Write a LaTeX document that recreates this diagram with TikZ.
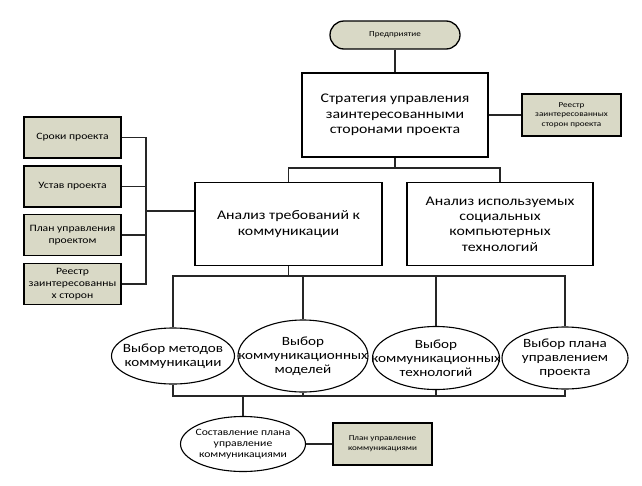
\documentclass[tikz,border=0pt]{standalone}
\usepackage{fontspec}
\setmainfont[FakeStretch=1.2]{Carlito}
\usetikzlibrary{shapes.geometric}
\definecolor{olivefill}{RGB}{217,217,198}
\begin{document}
\begin{tikzpicture}[x=1pt,y=-1pt,
  conn/.style={draw=black!85, line width=1.1pt},
  bigbox/.style={draw, line width=1.3pt, fill=white, align=center, inner sep=0pt,
    minimum width=186pt, minimum height=84pt, font=\fontsize{13.2}{15.4}\selectfont},
  sidebox/.style={draw, line width=1.3pt, fill=olivefill, align=center, inner sep=0pt,
    minimum width=97pt, minimum height=41pt, font=\fontsize{9.7}{11.7}\selectfont},
  smallbox/.style={draw, line width=1.3pt, fill=olivefill, align=center, inner sep=0pt,
    minimum width=99pt, minimum height=42pt, font=\fontsize{7.6}{9.8}\selectfont},
  ell/.style={ellipse, draw, line width=1.1pt, fill=white, inner sep=0pt},
  elltext/.style={align=center, font=\fontsize{12.6}{14.2}\selectfont, inner sep=0pt},
  elltextsmall/.style={align=center, font=\fontsize{9.7}{11}\selectfont, inner sep=0pt}
]
\useasboundingbox (0,0) rectangle (642,485);

% nodes
\node[draw, line width=1.3pt, fill=olivefill, rounded corners=14pt, minimum width=130pt,
  minimum height=28pt, inner sep=0pt, font=\fontsize{7.6}{9}\selectfont] (pred) at (395,35) {Предприятие};
\node[bigbox] (strat) at (395,115) {Стратегия управления\\заинтересованными\\сторонами проекта};
\node[smallbox] (reestr) at (571.5,115) {Реестр\\заинтересованных\\сторон проекта};

\node[bigbox, minimum width=187pt, minimum height=83pt] (an1) at (288.5,224) {Анализ требований к\\коммуникации};
\node[bigbox, minimum height=83pt] (an2) at (500,224) {Анализ используемых\\социальных\\компьютерных\\технологий};

\node[sidebox] (l1) at (72.5,137.5) {Сроки проекта};
\node[sidebox] (l2) at (72.5,186.5) {Устав проекта};
\node[sidebox] (l3) at (72.5,235) {План управления\\проектом};
\node[sidebox] (l4) at (72.5,284) {Реестр\\заинтересованны\\х сторон};

\node[ell, minimum width=123pt, minimum height=56pt,
  label={[elltext]center:Выбор методов\\коммуникации}] (e1) at (173,356) {};
\node[ell, minimum width=130pt, minimum height=72pt,
  label={[elltext]center:Выбор\\коммуникационных\\моделей}] (e2) at (303,356) {};
\node[ell, minimum width=127pt, minimum height=63pt,
  label={[elltext]center:Выбор\\коммуникационных\\технологий}] (e3) at (436,358) {};
\node[ell, minimum width=126pt, minimum height=62pt,
  label={[elltext]center:Выбор плана\\управлением\\проекта}] (e4) at (565,358) {};

\node[ell, minimum width=125pt, minimum height=55pt,
  label={[elltextsmall]center:Составление плана\\управление\\коммуникациями}] (e5) at (243,444) {};
\node[smallbox] (plan) at (382.5,444) {План управление\\коммуникациями};

% junction coordinates
\coordinate (j1) at (395,168);
\coordinate (lb) at (146,211);
\coordinate (j2) at (288.5,276);
\coordinate (j3) at (243,396);

% connectors
\draw[conn] (pred.south) -- (strat.north);
\draw[conn] (strat.east) -- (reestr.west);
\draw[conn] (strat.south) -- (j1);
\draw[conn] (an1.north) -- (an1.north |- j1) -- (an2.north |- j1) -- (an2.north);

\draw[conn] (l1.east) -- (l1.east -| lb) -- (l4.east -| lb) -- (l4.east);
\draw[conn] (l2.east) -- (l2.east -| lb);
\draw[conn] (l3.east) -- (l3.east -| lb);
\draw[conn] (lb) -- (lb -| an1.west);

\draw[conn] (an1.south) -- (j2);
\draw[conn] (e1.north) -- (e1.north |- j2) -- (e4.north |- j2) -- (e4.north);
\draw[conn] (e2.north) -- (e2.north |- j2);
\draw[conn] (e3.north) -- (e3.north |- j2);

\draw[conn] (e1.south) -- (e1.south |- j3) -- (e4.south |- j3) -- (e4.south);
\draw[conn] (e2.south) -- (e2.south |- j3);
\draw[conn] (e3.south) -- (e3.south |- j3);
\draw[conn] (j3) -- (e5.north);
\draw[conn] (e5.east) -- (plan.west);
\end{tikzpicture}
\end{document}
